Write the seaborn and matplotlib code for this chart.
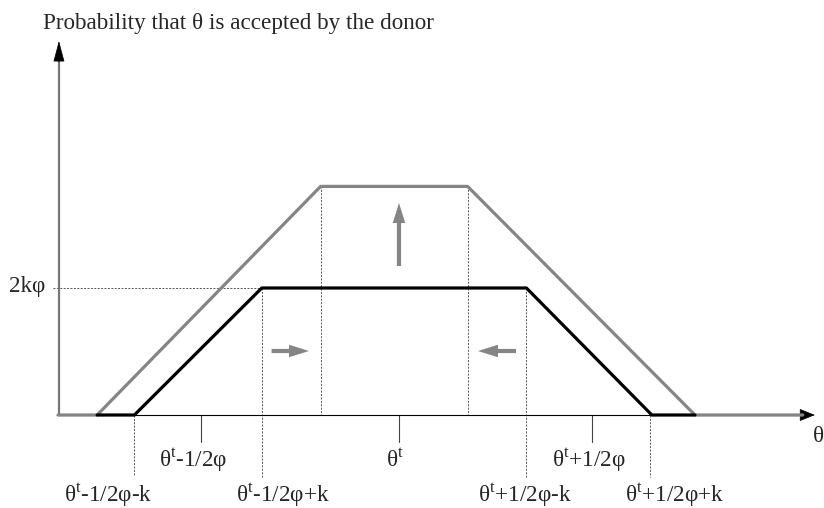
import matplotlib
matplotlib.use("Agg")
import matplotlib.pyplot as plt
import seaborn as sns
import pandas as pd

# θ is measured as an offset from θ^t (units of 1/2φ); probability in units of 2kφ
gray_x = [-1.74, -1.54, -0.40, 0.35, 1.51, 2.06]
gray_y = [0.0, 0.0, 1.8, 1.8, 0.0, 0.0]
black_x = [-1.54, -1.35, -0.70, 0.65, 1.29, 1.51]
black_y = [0.0, 0.0, 1.0, 1.0, 0.0, 0.0]

plateau_level = 1.0
plateau_label = "2kφ"

tick_x = [-1.01, 0.0, 0.985]
tick_labels = [r"θ$^{\mathrm{t}}$-1/2φ", r"θ$^{\mathrm{t}}$", r"θ$^{\mathrm{t}}$+1/2φ"]
tick_label_x = [-1.05, -0.02, 0.97]

edge_x = [-1.352, -0.699, 0.648, 1.28]
edge_top = [0.0, 1.0, 1.0, 0.0]
edge_bottom = [-0.47, -0.50, -0.50, -0.49]
edge_labels = [r"θ$^{\mathrm{t}}$-1/2φ-k", r"θ$^{\mathrm{t}}$-1/2φ+k",
               r"θ$^{\mathrm{t}}$+1/2φ-k", r"θ$^{\mathrm{t}}$+1/2φ+k"]
edge_label_x = [-1.485, -0.594, 0.643, 1.405]

inner_x = [-0.398, 0.352]
inner_top = [1.8, 1.8]

y_label = "Probability that θ is accepted by the donor"
x_label = "θ"

sns.set_theme(style="white")
plt.rcParams["font.family"] = ["Liberation Serif", "DejaVu Serif"]
plt.rcParams["mathtext.fontset"] = "custom"
plt.rcParams["mathtext.rm"] = "Liberation Serif"

fig = plt.figure(figsize=(8.24, 5.08), dpi=100)
ax = fig.add_axes([0, 0, 1, 1])
XLIM = (-2.0357, 2.1684)
YLIM = (-0.7323, 3.2677)
ax.set_axis_off()

GRAY = "#858585"
DASH = "#555555"
FS = 16.7

x0 = -1.735          # y-axis position
x_end = 2.061        # where the x-axis shaft ends
x_tip = 2.122
y_tip = 2.945

# axes
ax.plot([x0, x_end], [0, 0], color="black", lw=0.8, zorder=2)
ax.plot([x0, x0], [0, 2.80], color="#777777", lw=1.6, zorder=2)
ax.annotate("", xy=(x0, y_tip), xytext=(x0, 2.78),
            arrowprops=dict(arrowstyle="-|>,head_length=0.75,head_width=0.2",
                            mutation_scale=18, fc="black", ec="black", lw=0.5,
                            shrinkA=0, shrinkB=0))
ax.annotate("", xy=(x_tip, 0), xytext=(x_end - 0.01, 0),
            arrowprops=dict(arrowstyle="-|>,head_length=0.55,head_width=0.22",
                            mutation_scale=18, fc="black", ec="black", lw=0.5,
                            shrinkA=0, shrinkB=0))

# guide lines
dash = (0, (2, 1.5))
ax.plot([x0 - 0.03, black_x[2]], [plateau_level, plateau_level],
        color=DASH, lw=0.7, ls=dash, zorder=1)
for x, top, bot in zip(edge_x, edge_top, edge_bottom):
    ax.plot([x, x], [top, bot], color=DASH, lw=0.7, ls=dash, zorder=1)
for x, top in zip(inner_x, inner_top):
    ax.plot([x, x], [top, 0], color=DASH, lw=0.7, ls=dash, zorder=1)
for x in tick_x:
    ax.plot([x, x], [0, -0.21], color="#444444", lw=0.8, zorder=1)

# acceptance probability before and after
df_gray = pd.DataFrame({"theta": gray_x, "p": gray_y})
df_black = pd.DataFrame({"theta": black_x, "p": black_y})
sns.lineplot(data=df_gray, x="theta", y="p", sort=False, estimator=None,
             color=GRAY, lw=2.3, ax=ax, zorder=3)
sns.lineplot(data=df_black, x="theta", y="p", sort=False, estimator=None,
             color="black", lw=2.3, ax=ax, zorder=4)
ax.set_xlim(*XLIM)
ax.set_ylim(*YLIM)
ax.set_axis_off()

# shift arrows
arrow_style = "simple,head_length=0.72,head_width=0.45,tail_width=0.15"
for tail, tip in [((-0.65, 0.504), (-0.459, 0.504)),
                  ((0.597, 0.504), (0.403, 0.504)),
                  ((0.0, 1.173), (0.0, 1.669))]:
    ax.annotate("", xy=tip, xytext=tail,
                arrowprops=dict(arrowstyle=arrow_style, mutation_scale=20,
                                fc=GRAY, ec="none", shrinkA=0, shrinkB=0))

# text
ax.text(-1.816, 3.037, y_label, fontsize=FS, ha="left", va="baseline")
ax.text(-1.806, 0.972, plateau_label, fontsize=FS, ha="right", va="baseline")
ax.text(2.112, -0.213, x_label, fontsize=FS, ha="left", va="baseline")
for x, lab in zip(tick_label_x, tick_labels):
    ax.text(x, -0.41, lab, fontsize=FS, ha="center", va="baseline")
for x, lab in zip(edge_label_x, edge_labels):
    ax.text(x, -0.685, lab, fontsize=FS, ha="center", va="baseline")

fig.savefig("out.png", dpi=100)
